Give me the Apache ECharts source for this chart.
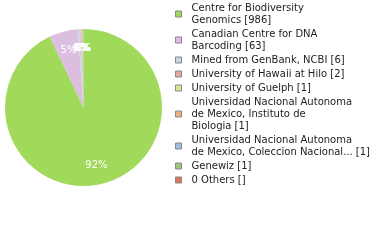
<!DOCTYPE html>
<html>
<head>
<meta charset="utf-8">
<script src="https://cdn.jsdelivr.net/npm/echarts@6/dist/echarts.min.js"></script>
<style>
html,body{margin:0;padding:0;background:#fff;}
#chart{width:380px;height:240px;}
</style>
</head>
<body>
<div id="chart"></div>
<script>
var categories = [
  "Centre for Biodiversity Genomics",
  "Canadian Centre for DNA Barcoding",
  "Mined from GenBank, NCBI",
  "University of Hawaii at Hilo",
  "University of Guelph",
  "Universidad Nacional Autonoma de Mexico, Instituto de Biologia",
  "Universidad Nacional Autonoma de Mexico, Coleccion Nacional",
  "Genewiz",
  "0 Others"
];
var values = [986, 63, 6, 2, 1, 1, 1, 1, 0];
var legendLabels = [
  "Centre for Biodiversity\nGenomics [986]",
  "Canadian Centre for DNA\nBarcoding [63]",
  "Mined from GenBank, NCBI [6]",
  "University of Hawaii at Hilo [2]",
  "University of Guelph [1]",
  "Universidad Nacional Autonoma\nde Mexico, Instituto de\nBiologia [1]",
  "Universidad Nacional Autonoma\nde Mexico, Coleccion Nacional... [1]",
  "Genewiz [1]",
  "0 Others []"
];
var colors = ["#a1d95b", "#dcbfe0", "#c8d8e3", "#e3a99c", "#dfe19d", "#f1b07a", "#9dbde2", "#9cc67b", "#dc7558"];

var CX = 83.5, CY = 107.5, R = 78.5, LABEL_R = 0.75 * R;

var labelMap = {};
categories.forEach(function (c, i) { labelMap[c] = legendLabels[i]; });

var total = values.reduce(function (a, b) { return a + b; }, 0);

var mainData = categories.map(function (c, i) {
  return { name: c, value: values[i], itemStyle: { color: colors[i] }, label: { show: values[i] > 0 } };
});

var chart = echarts.init(document.getElementById('chart'), null, { renderer: 'canvas' });
chart.setOption({
  animation: false,
  backgroundColor: '#ffffff',
  legend: {
    orient: 'vertical',
    left: 175,
    top: 2,
    itemWidth: 6,
    itemHeight: 6,
    itemGap: 2,
    icon: 'rect',
    padding: 0,
    selectedMode: false,
    itemStyle: { borderColor: '#888888', borderWidth: 1 },
    data: categories,
    formatter: function (name) { return labelMap[name]; },
    textStyle: {
      fontFamily: 'DejaVu Sans',
      fontSize: 10,
      lineHeight: 12,
      color: '#222222',
      padding: [0, 0, 0, 5]
    }
  },
  series: [
    {
      type: 'pie',
      center: [CX, CY],
      radius: [0, R],
      startAngle: 90,
      clockwise: true,
      avoidLabelOverlap: false,
      minShowLabelAngle: 0,
      labelLine: { show: false },
      itemStyle: { borderWidth: 0 },
      emphasis: { disabled: true },
      label: {
        show: true,
        position: 'inside',
        color: '#ffffff',
        fontFamily: 'DejaVu Sans',
        fontSize: 10,
        formatter: function (p) { return Math.floor(p.percent) + '%'; }
      },
      labelLayout: function (params) {
        var i = params.dataIndex;
        var before = 0;
        for (var k = 0; k < i; k++) before += values[k];
        var mid = (before + values[i] / 2) / total;
        var ang = (90 - mid * 360) * Math.PI / 180;
        return {
          x: CX + LABEL_R * Math.cos(ang),
          y: CY - LABEL_R * Math.sin(ang),
          align: 'center',
          verticalAlign: 'middle',
          hideOverlap: false
        };
      },
      data: mainData
    }
  ]
});
</script>
</body>
</html>
